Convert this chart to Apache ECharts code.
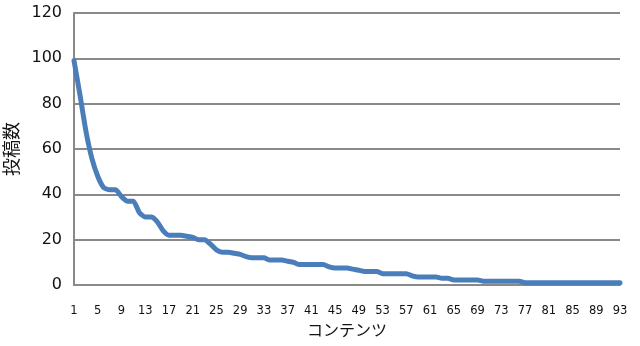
<!DOCTYPE html>
<html>
<head>
<meta charset="utf-8">
<script src="https://cdn.jsdelivr.net/npm/echarts@6/dist/echarts.min.js"></script>
<style>html,body{margin:0;padding:0;background:#fff}#c{width:640px;height:346px}</style>
</head>
<body>
<div id="c"></div>
<script>
const categories = [];
for (let i = 1; i <= 93; i++) categories.push(String(i));
const posts = [
  99, 84, 68, 56, 48, 43, 42, 42, 39, 37,
  37, 32, 30, 30, 28, 24, 22, 22, 22, 21.5,
  21, 20, 20, 18, 15.5, 14.5, 14.5, 14, 13.5, 12.5,
  12, 12, 12, 11, 11, 11, 10.5, 10, 9, 9,
  9, 9, 9, 8, 7.5, 7.5, 7.5, 7, 6.5, 6,
  6, 6, 5, 5, 5, 5, 5, 4, 3.5, 3.5,
  3.5, 3.5, 3, 3, 2.2, 2.2, 2.2, 2.2, 2.2, 1.7,
  1.7, 1.7, 1.7, 1.7, 1.7, 1.7, 1, 1, 1, 1,
  1, 1, 1, 1, 1, 1, 1, 1, 1, 1,
  1, 1, 1
];
const yName = '投稿数';
const xName = 'コンテンツ';

const chart = echarts.init(document.getElementById('c'), null, {renderer: 'canvas'});
const gray = '#898989';
chart.setOption({
  animation: false,
  backgroundColor: '#ffffff',
  grid: {left: 74, right: 20, top: 13, bottom: 61, containLabel: false, outerBoundsMode: 'none'},
  xAxis: {
    type: 'category',
    data: categories,
    boundaryGap: false,
    name: xName,
    nameLocation: 'middle',
    nameGap: 28,
    nameTextStyle: {fontFamily: '"Noto Sans CJK JP", sans-serif', fontSize: 16, color: '#111'},
    axisLine: {lineStyle: {color: gray, width: 2}},
    axisTick: {show: false},
    axisLabel: {interval: 3, margin: 20, fontFamily: 'DejaVu Sans, Verdana, sans-serif', fontSize: 11.5, color: '#111'},
    splitLine: {show: false}
  },
  yAxis: {
    type: 'value',
    min: 0, max: 120, interval: 20,
    name: yName,
    nameLocation: 'middle',
    nameRotate: 90,
    nameGap: 47,
    nameTextStyle: {fontFamily: '"Noto Sans CJK JP", sans-serif', fontSize: 18, color: '#111'},
    axisLine: {show: true, lineStyle: {color: gray, width: 2}},
    axisTick: {show: false},
    axisLabel: {margin: 12, fontFamily: 'DejaVu Sans, Verdana, sans-serif', fontSize: 16, color: '#111'},
    splitLine: {lineStyle: {color: gray, width: 2}}
  },
  series: [{
    type: 'line',
    data: posts,
    showSymbol: false,
    smooth: 0.2,
    lineStyle: {color: '#4a7ebb', width: 5, cap: 'round', join: 'round'},
    z: 3
  }]
});
</script>
</body>
</html>
